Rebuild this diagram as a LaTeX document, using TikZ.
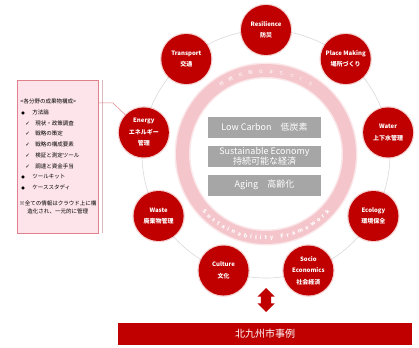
\documentclass[tikz,border=0pt]{standalone}
\usepackage{fontspec}
\setmainfont{Noto Sans CJK JP}
\newfontfamily\symfont{DejaVu Sans}
\usepackage{xcolor}
\usepackage{tikz}
\usetikzlibrary{shapes.geometric, shapes.arrows, arrows, positioning, decorations.text}

\definecolor{cRed}{HTML}{C00000}
\definecolor{cRing}{HTML}{F4C6CB}
\definecolor{cGray}{HTML}{A6A6A6}
\definecolor{cCircle}{HTML}{D9D9D9}
\definecolor{cBoxFill}{HTML}{FCE4EA}
\definecolor{cBoxLine}{HTML}{E0828E}
\definecolor{cShade}{HTML}{D9B8BC}

\begin{document}
\begin{tikzpicture}[x=1pt, y=1pt]
        \tikzstyle{topic} = [circle, minimum size=50pt, inner sep=0pt, fill=cRed, text=white, align=center, font=\bfseries\fontsize{6}{11.5}\selectfont, preaction={draw=cRed!70, line width=2.5pt, opacity=0.25}]
        \tikzstyle{issue} = [rectangle, minimum width=113pt, minimum height=21.5pt, inner sep=0pt, fill=cGray, text=white, align=center, font=\fontsize{9}{10}\selectfont]
        \tikzstyle{listbox} = [rectangle, minimum width=81pt, minimum height=153pt, text width=75pt, inner xsep=3pt, draw=cBoxLine, fill=cBoxFill, align=left, font=\fontsize{5.5}{10.7}\selectfont]
        \tikzstyle{link} = [draw=cBoxLine, line width=0.5pt]

        \useasboundingbox (-266,-193) rectangle (153,154);

        % framework ring
        \draw [cCircle, line width=0.6pt] (0,0) circle (124);
        \draw [cRing, line width=13pt, preaction={draw=cRing, line width=16pt, opacity=0.4}] (0,0) circle (83.5);
        \path [decorate, decoration={text along path, text color=white, text align={fit to path},
            text={|\fontsize{4.5}{5}\selectfont|持続可能なまちづくり}}]
            (124:81) arc[start angle=124, end angle=56, radius=81];
        \path [decorate, decoration={text along path, text color=white, text align={fit to path},
            text={|\bfseries\fontsize{5.5}{6}\selectfont|Sustainability Framework}}]
            (222:86) arc[start angle=222, end angle=318, radius=86];

        \node (lowcarbon) [issue] at (-1.5,26.5) {Low Carbon\quad 低炭素};
        \node (economy) [issue, below=7pt of lowcarbon] {Sustainable Economy\\持続可能な経済};
        \node (aging) [issue, below=7pt of economy] {Aging\quad 高齢化};

        % fields
        \node (resilience) [topic] at (90:124) {Resilience\\防災};
        \node (placemaking) [topic] at (50:124) {Place Making\\場所づくり};
        \node (water) [topic] at (10:124) {Water\\上下水管理};
        \node (ecology) [topic] at (-30:124) {Ecology\\環境保全};
        \node (socio) [topic] at (-70:124) {Socio\\Economics\\社会経済};
        \node (culture) [topic] at (-110:124) {Culture\\文化};
        \node (waste) [topic] at (-150:124) {Waste\\廃棄物管理};
        \node (energy) [topic] at (170:124) {Energy\\エネルギー\\管理};
        \node (transport) [topic] at (130:124) {Transport\\交通};

        % deliverables
        \node (deliverables) [listbox] at (-208,-2.5) {%
            <各分野の成果物構成>\\
            \makebox[12pt][l]{\hspace*{1pt}{\symfont\fontsize{4}{4}\selectfont ●}}方法論\\
            \makebox[15pt][l]{\hspace*{5pt}{\symfont ✓}}現状・政策調査\\
            \makebox[15pt][l]{\hspace*{5pt}{\symfont ✓}}戦略の策定\\
            \makebox[15pt][l]{\hspace*{5pt}{\symfont ✓}}戦略の構成要素\\
            \makebox[15pt][l]{\hspace*{5pt}{\symfont ✓}}検証と測定ツール\\
            \makebox[15pt][l]{\hspace*{5pt}{\symfont ✓}}調達と資金手当\\
            \makebox[12pt][l]{\hspace*{1pt}{\symfont\fontsize{4}{4}\selectfont ●}}ツールキット\\
            \makebox[12pt][l]{\hspace*{1pt}{\symfont\fontsize{4}{4}\selectfont ●}}ケーススタディ\\[5.3pt]
            \hspace*{-1pt}※全ての情報はクラウド上に構\\[-2.7pt]
            \hspace*{7pt}造化され、一元的に管理};
        \draw [cShade, line width=0.8pt] ([xshift=3.5pt]deliverables.north east) -- ([xshift=3.5pt]deliverables.south east);
        \draw [link] ([yshift=-23pt]deliverables.north east) -- ++(14,0) -- (energy);

        % case study
        \node (updown) [double arrow, fill=cRed, rotate=90, minimum height=24pt, inner sep=5pt, double arrow head extend=3.5pt] at (0,-146) {};
        \node (kitakyushu) [rectangle, minimum width=294pt, minimum height=22pt, fill=cRed, text=white, font=\fontsize{10}{10}\selectfont] at (-1,-180) {北九州市事例};
    \end{tikzpicture}
\end{document}
